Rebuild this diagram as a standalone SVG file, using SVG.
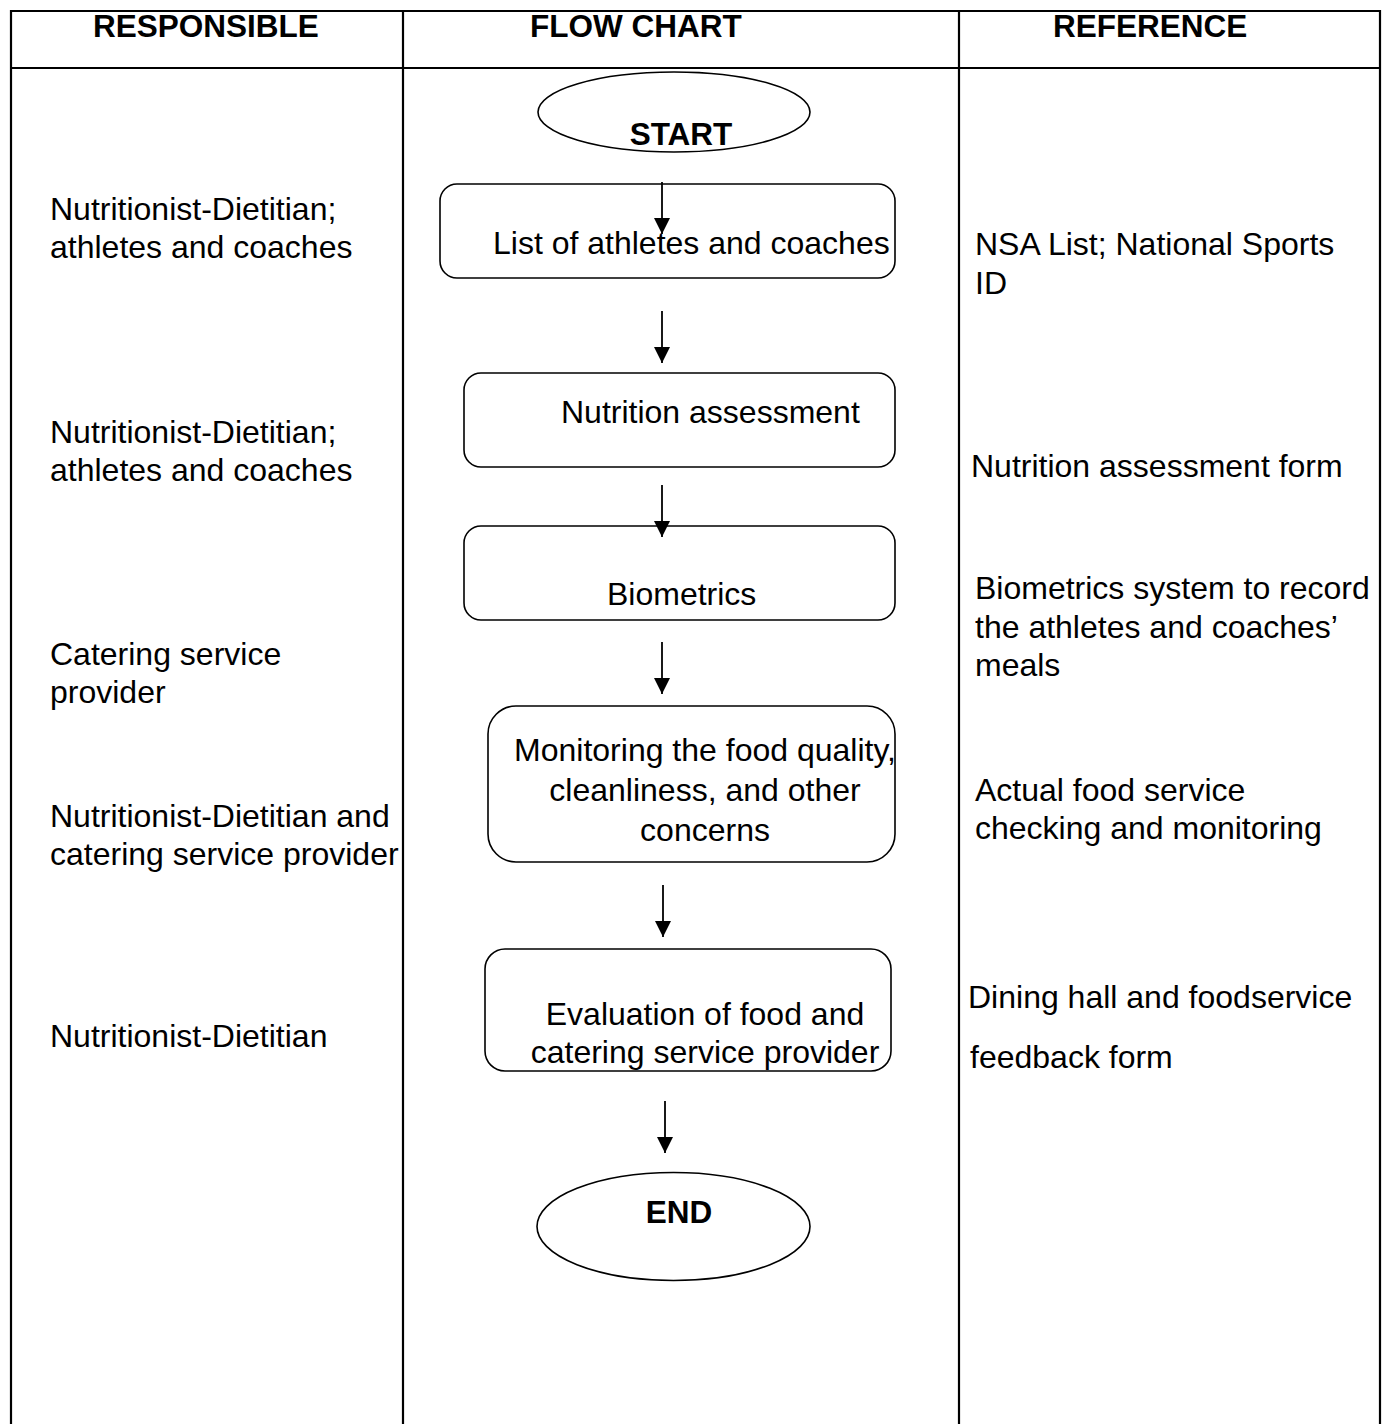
<svg xmlns="http://www.w3.org/2000/svg" width="1384" height="1424" viewBox="0 0 1384 1424">
  <defs>
    <marker id="arrow" viewBox="0 0 16 16" refX="16" refY="8" markerWidth="16" markerHeight="16" markerUnits="userSpaceOnUse" orient="auto">
      <path d="M0,0 L16,8 L0,16 z" fill="#000"/>
    </marker>
    <style>
      .grid { stroke: #000; stroke-width: 2.2; fill: none; }
      .box { fill: #fff; stroke: #000; stroke-width: 1.6; }
      .conn { stroke: #000; stroke-width: 1.8; fill: none; marker-end: url(#arrow); }
      .hdr { font-family: "Liberation Sans", Arial, sans-serif; font-weight: bold; font-size: 31.5px; fill: #000; }
      .txt { font-family: "Liberation Sans", Arial, sans-serif; font-size: 32px; fill: #000; }
      .term { font-family: "Liberation Sans", Arial, sans-serif; font-weight: bold; font-size: 31.5px; fill: #000; }
    </style>
  </defs>
  <rect width="1384" height="1424" fill="#fff"/>

  <g id="table">
    <line class="grid" x1="11" y1="11" x2="1380" y2="11"/>
    <line class="grid" x1="11" y1="68" x2="1380" y2="68"/>
    <line class="grid" x1="11" y1="10" x2="11" y2="1424"/>
    <line class="grid" x1="403" y1="10" x2="403" y2="1424"/>
    <line class="grid" x1="959" y1="10" x2="959" y2="1424"/>
    <line class="grid" x1="1380" y1="10" x2="1380" y2="1424"/>
    <text class="hdr" x="93" y="37">RESPONSIBLE</text>
    <text class="hdr" x="530" y="37">FLOW CHART</text>
    <text class="hdr" x="1053" y="37">REFERENCE</text>
  </g>

  <g id="responsible">
    <text class="txt" x="50" y="220">Nutritionist-Dietitian;</text>
    <text class="txt" x="50" y="258">athletes and coaches</text>
    <text class="txt" x="50" y="443">Nutritionist-Dietitian;</text>
    <text class="txt" x="50" y="481">athletes and coaches</text>
    <text class="txt" x="50" y="665">Catering service</text>
    <text class="txt" x="50" y="703">provider</text>
    <text class="txt" x="50" y="827">Nutritionist-Dietitian and</text>
    <text class="txt" x="50" y="865">catering service provider</text>
    <text class="txt" x="50" y="1047">Nutritionist-Dietitian</text>
  </g>

  <g id="reference">
    <text class="txt" x="975" y="255">NSA List; National Sports</text>
    <text class="txt" x="975" y="294">ID</text>
    <text class="txt" x="971" y="477">Nutrition assessment form</text>
    <text class="txt" x="975" y="599">Biometrics system to record</text>
    <text class="txt" x="975" y="638">the athletes and coaches’</text>
    <text class="txt" x="975" y="676">meals</text>
    <text class="txt" x="975" y="801">Actual food service</text>
    <text class="txt" x="975" y="839">checking and monitoring</text>
    <text class="txt" x="968" y="1008">Dining hall and foodservice</text>
    <text class="txt" x="970" y="1068">feedback form</text>
  </g>

  <g id="start">
    <ellipse class="box" cx="674" cy="112" rx="136" ry="40"/>
    <text class="term" x="681" y="145" text-anchor="middle">START</text>
  </g>

  <g id="list">
    <rect class="box" x="440" y="184" width="455" height="94" rx="17" ry="17"/>
    <text class="txt" x="493" y="254">List of athletes and coaches</text>
  </g>

  <g id="assessment">
    <rect class="box" x="464" y="373" width="431" height="94" rx="17" ry="17"/>
    <text class="txt" x="561" y="423">Nutrition assessment</text>
  </g>

  <g id="biometrics">
    <rect class="box" x="464" y="526" width="431" height="94" rx="17" ry="17"/>
    <text class="txt" x="607" y="605">Biometrics</text>
  </g>

  <g id="monitoring">
    <rect class="box" x="488" y="706" width="407" height="156" rx="28" ry="28"/>
    <text class="txt" x="705" y="761" text-anchor="middle">Monitoring the food quality,</text>
    <text class="txt" x="705" y="801" text-anchor="middle">cleanliness, and other</text>
    <text class="txt" x="705" y="841" text-anchor="middle">concerns</text>
  </g>

  <g id="evaluation">
    <rect class="box" x="485" y="949" width="406" height="122" rx="20" ry="20"/>
    <text class="txt" x="705" y="1025" text-anchor="middle">Evaluation of food and</text>
    <text class="txt" x="705" y="1063" text-anchor="middle">catering service provider</text>
  </g>

  <g id="end">
    <ellipse class="box" cx="673.5" cy="1226.5" rx="136.5" ry="54"/>
    <text class="term" x="679" y="1223" text-anchor="middle">END</text>
  </g>

  <g id="connectors">
    <line class="conn" x1="662" y1="182" x2="662" y2="234"/>
    <line class="conn" x1="662" y1="311" x2="662" y2="363"/>
    <line class="conn" x1="662" y1="485" x2="662" y2="537"/>
    <line class="conn" x1="662" y1="642" x2="662" y2="694"/>
    <line class="conn" x1="663" y1="885" x2="663" y2="937"/>
    <line class="conn" x1="665" y1="1101" x2="665" y2="1153"/>
  </g>
</svg>
